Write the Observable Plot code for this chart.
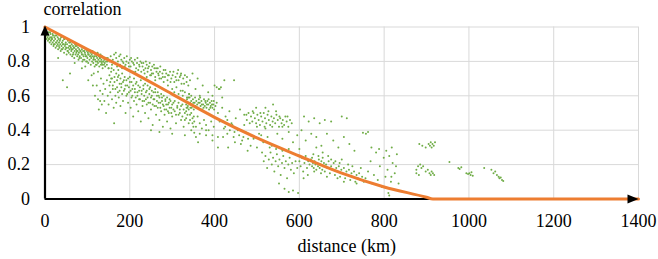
<!DOCTYPE html>
<html>
<head>
<meta charset="utf-8">
<script src="https://cdn.jsdelivr.net/npm/d3@7"></script>
<script src="https://cdn.jsdelivr.net/npm/@observablehq/plot@0.6"></script>
<style>
  html, body { margin: 0; padding: 0; background: white; }
</style>
</head>
<body>
<div id="chart"></div>
<script>
// ---- axis ticks ----
const xTicks = [0, 200, 400, 600, 800, 1000, 1200, 1400];
const yTicks = [0, 0.2, 0.4, 0.6, 0.8, 1];
const xTitle = "distance (km)";
const yTitle = "correlation";

// ---- fitted correlation curve ----
const curveKm   = [0, 100, 200, 300, 400, 500, 600, 700, 800, 900, 915, 1400];
const curveCorr = [1, 0.87, 0.745, 0.61, 0.475, 0.355, 0.25, 0.15, 0.07, 0.01, 0, 0];

const bandNear = [[2,0.97],[3,0.95],[4,0.93],[5,0.96],[6,0.94],[7,0.92],[8,0.95],[9,0.97],[10,0.93],[11,0.91],[12,0.94],[13,0.96],[14,0.92],[15,0.90],[16,0.94],[17,0.93],[18,0.91],[19,0.95],[20,0.89],[21,0.92],[22,0.94],[23,0.90],[24,0.93],[25,0.88],[26,0.91],[27,0.95],[28,0.89],[29,0.92],[30,0.90],[31,0.87],[32,0.93],[33,0.91],[34,0.88],[35,0.92],[36,0.90],[37,0.86],[38,0.94],[39,0.89],[40,0.91],[41,0.87],[42,0.92],[43,0.88],[44,0.90],[45,0.85],[46,0.93],[47,0.89],[48,0.87],[49,0.91],[50,0.88],[51,0.84],[52,0.90],[53,0.86],[54,0.92],[55,0.88],[56,0.85],[57,0.89],[58,0.87],[59,0.91],[60,0.84],[61,0.88],[62,0.86],[63,0.90],[64,0.83],[65,0.87],[66,0.89],[67,0.85],[68,0.88],[69,0.82],[70,0.86],[71,0.90],[72,0.84],[73,0.87],[74,0.85],[75,0.89],[76,0.83],[77,0.86],[78,0.88],[79,0.81],[80,0.85],[81,0.87],[82,0.83],[83,0.86],[84,0.89],[85,0.82],[86,0.85],[87,0.87],[88,0.80],[89,0.84],[90,0.86],[91,0.83],[92,0.88],[93,0.81],[94,0.85],[95,0.84],[96,0.87],[97,0.80],[98,0.83],[99,0.86],[100,0.82],[101,0.85],[102,0.79],[103,0.84],[104,0.86],[105,0.81],[106,0.83],[107,0.85],[108,0.78],[109,0.82],[110,0.84],[111,0.80],[112,0.86],[113,0.83],[114,0.79],[115,0.82],[116,0.85],[117,0.77],[118,0.81],[119,0.84],[120,0.80],[121,0.83],[122,0.78],[123,0.82],[124,0.85],[125,0.79],[126,0.81],[127,0.83],[128,0.77],[129,0.80],[130,0.82],[131,0.84],[132,0.78],[133,0.81],[134,0.79],[135,0.83],[136,0.76],[137,0.80],[138,0.82],[139,0.78],[140,0.81],[142,0.77],[144,0.80],[146,0.78],[148,0.82],[150,0.76],
[3,0.98],[6,0.96],[9,0.93],[12,0.97],[15,0.93],[18,0.96],[21,0.90],[24,0.95],[27,0.91],[30,0.94],[33,0.89],[36,0.93],[39,0.87],[42,0.90],[45,0.93],[48,0.90],[51,0.88],[54,0.86],[57,0.91],[60,0.89],[63,0.87],[66,0.84],[69,0.88],[72,0.89],[75,0.86],[78,0.84],[81,0.82],[84,0.86],[87,0.84],[90,0.81],[93,0.86],[96,0.83],[99,0.80],[102,0.84],[105,0.86],[108,0.83],[111,0.85],[114,0.81],[117,0.83],[120,0.78],[123,0.80],[126,0.84],[129,0.82],[132,0.80],[135,0.78],[138,0.80],[141,0.79],[144,0.82],[147,0.80],
[31,0.82],[59,0.73],[42,0.69],[52,0.65],[87,0.76],[102,0.69],[70,0.79],[115,0.73],[125,0.74],[95,0.77],[113,0.66],[118,0.60],[130,0.57],[110,0.72]];

const bandUpper = [[152,0.80],[155,0.83],[158,0.78],[160,0.81],[163,0.84],[165,0.79],[168,0.82],[170,0.77],[172,0.80],[175,0.83],[177,0.78],[180,0.81],[182,0.76],[185,0.79],[187,0.82],[190,0.78],[192,0.80],[195,0.75],[197,0.79],[200,0.81],[202,0.77],[205,0.80],[207,0.74],[210,0.78],[212,0.81],[215,0.76],[217,0.79],[220,0.75],[222,0.78],[225,0.80],[227,0.74],[230,0.77],[232,0.79],[235,0.73],[237,0.76],[240,0.78],[242,0.74],[245,0.77],[248,0.72],[250,0.75],[253,0.77],[255,0.73],[258,0.76],[260,0.71],[263,0.74],[266,0.76],[268,0.72],[271,0.74],[274,0.70],[277,0.73],[280,0.75],[283,0.71],[286,0.73],[289,0.69],[292,0.72],[295,0.74],[298,0.70],[301,0.72],[305,0.68],[308,0.71],[312,0.73],[315,0.69],[318,0.71],[322,0.67],[326,0.70],[330,0.72],[334,0.68],[338,0.66],[342,0.69],
[157,0.76],[162,0.79],[167,0.85],[173,0.75],[178,0.84],[183,0.80],[188,0.77],[193,0.83],[198,0.77],[203,0.82],[208,0.79],[213,0.74],[218,0.82],[223,0.77],[228,0.79],[233,0.75],[238,0.80],[243,0.76],[247,0.79],[252,0.73],[257,0.78],[262,0.76],[267,0.73],[272,0.77],[278,0.71],[284,0.75],[290,0.72],[296,0.68],[303,0.74],[310,0.69],[320,0.72],[328,0.67],
[300,0.64],[305,0.62],[310,0.65],[315,0.61],[320,0.63],[325,0.60],[330,0.62],[335,0.59],[340,0.61],[345,0.60],[290,0.66],[280,0.68],[270,0.70],[260,0.69],[250,0.72],[240,0.71]];

const denseBelow = [[150,0.76],[152,0.72],[154,0.68],[156,0.74],[158,0.70],[160,0.66],[162,0.75],[164,0.71],[166,0.64],[168,0.73],[170,0.69],[172,0.62],[174,0.72],[176,0.67],[178,0.70],[180,0.65],[182,0.73],[184,0.68],[186,0.63],[188,0.71],[190,0.66],[192,0.69],[194,0.61],[196,0.70],[198,0.65],[200,0.71],[202,0.63],[204,0.68],[206,0.60],[208,0.66],[210,0.70],[212,0.64],[214,0.59],[216,0.68],[218,0.62],[220,0.66],[222,0.58],[224,0.65],[226,0.69],[228,0.63],[230,0.57],[232,0.64],[234,0.60],[236,0.67],[238,0.58],[240,0.63],[242,0.66],[244,0.56],[246,0.61],[248,0.65],[250,0.59],[252,0.63],[254,0.55],[256,0.62],[258,0.58],[260,0.64],[262,0.54],[264,0.60],[266,0.62],[268,0.56],[270,0.59],[272,0.53],[274,0.61],[276,0.57],[278,0.55],[280,0.60],[282,0.52],[284,0.58],[286,0.55],[288,0.59],[290,0.51],[292,0.56],[294,0.53],[296,0.57],[298,0.50],[300,0.55],[303,0.52],[306,0.57],[309,0.49],[312,0.53],[315,0.56],[318,0.50],[321,0.54],[324,0.48],[327,0.52],[330,0.46],[333,0.51],[336,0.49],[339,0.52],[342,0.46],[345,0.50],[348,0.44],[351,0.48]];

const spreadLower = [[122,0.66],[125,0.58],[127,0.52],[130,0.63],[132,0.70],[134,0.55],[136,0.61],[138,0.67],[140,0.57],[142,0.64],[144,0.50],[146,0.69],[148,0.60],[150,0.55],[152,0.66],[154,0.62],[156,0.70],[158,0.58],[160,0.64],[162,0.53],[164,0.68],[166,0.60],[168,0.56],[170,0.65],[172,0.71],[174,0.59],[176,0.63],[178,0.54],[180,0.67],[182,0.61],[184,0.57],[186,0.69],[188,0.64],[190,0.50],[192,0.60],[194,0.66],[196,0.56],[198,0.62],[200,0.68],[202,0.53],[204,0.59],[206,0.64],[208,0.48],[210,0.57],[212,0.62],[214,0.67],[216,0.55],[218,0.60],[220,0.51],[222,0.63],[224,0.58],[226,0.45],[228,0.61],[230,0.54],[232,0.66],[234,0.57],[236,0.50],[238,0.62],[240,0.55],[242,0.59],[244,0.47],[246,0.64],[248,0.56],[250,0.52],[252,0.60],[254,0.43],[256,0.58],[258,0.54],[260,0.62],[262,0.49],[264,0.57],[266,0.53],[268,0.60],[270,0.46],[272,0.56],[274,0.51],[276,0.59],[278,0.42],[280,0.54],[282,0.49],[284,0.57],[286,0.52],[288,0.45],[290,0.55],[292,0.50],[294,0.58],[296,0.41],[298,0.53],[300,0.48],[303,0.56],[306,0.51],[309,0.44],[312,0.54],[315,0.49],[318,0.52],[321,0.46],[324,0.55],[327,0.42],[330,0.50],[333,0.47],[336,0.53],[339,0.44],[342,0.49],[345,0.40],[348,0.47],[352,0.45],[356,0.42],[360,0.48],[365,0.44],[370,0.41],[375,0.46],[380,0.43],[386,0.40],[392,0.45],[398,0.42],
[314,0.75],[325,0.63],[340,0.61],[355,0.64],[365,0.60],[372,0.66],[385,0.62],[395,0.60],[405,0.65],[412,0.64],[418,0.59],[360,0.70],[348,0.73],[400,0.66],[410,0.64],[415,0.65],[321,0.73],[335,0.71],[423,0.69],[446,0.69],
[352,0.385],[356,0.36],[361,0.33],[408,0.30],[380,0.37],[395,0.34],[250,0.40],[270,0.39],[300,0.38],[330,0.37],[163,0.44]];

const clusterMid = [[330,0.57],[333,0.55],[335,0.58],[337,0.54],[339,0.56],[341,0.59],[343,0.53],[345,0.57],[347,0.55],[349,0.58],[351,0.52],[353,0.56],[355,0.54],[357,0.57],[359,0.55],[361,0.53],[363,0.58],[365,0.56],[367,0.54],[369,0.57],[371,0.52],[373,0.55],[375,0.58],[377,0.54],[379,0.56],[381,0.53],[383,0.57],[385,0.55],[387,0.52],[389,0.56],[391,0.54],[393,0.57],[395,0.53],[397,0.55],[399,0.52],[334,0.53],[338,0.59],[342,0.56],[346,0.53],[350,0.56],[354,0.59],[358,0.53],[362,0.56],[366,0.59],[370,0.55],[374,0.53],[378,0.57],[382,0.55],[386,0.58],[390,0.53],[394,0.55],[398,0.57],[402,0.54],[405,0.56]];

const spreadMid = [[408,0.50],[412,0.45],[418,0.53],[422,0.41],[426,0.48],[430,0.38],[435,0.51],[440,0.44],[445,0.36],[450,0.47],[455,0.40],[460,0.52],[465,0.34],[470,0.43],[475,0.49],[480,0.38],[485,0.31],[420,0.36],[432,0.30],[448,0.33],[462,0.32],[478,0.28],[350,0.42],[365,0.38],[380,0.40],[395,0.37],[408,0.36],[492,0.35],[500,0.30],[510,0.37],[520,0.41],
[420,0.45],[425,0.42],[430,0.46],[436,0.40],[442,0.43],[447,0.39],[452,0.41],[458,0.37],[463,0.40],[468,0.36],[473,0.39],[479,0.35],[485,0.37],
[486,0.48],[489,0.45],[492,0.50],[495,0.47],[498,0.44],[501,0.49],[504,0.46],[507,0.43],[510,0.48],[513,0.45],[516,0.50],[519,0.47],[522,0.44],[525,0.49],[528,0.46],[531,0.43],[534,0.48],[537,0.45],[540,0.47],[543,0.44],[546,0.49],[549,0.46],[552,0.42],[555,0.47],[558,0.44],[561,0.46],[564,0.43],[567,0.48],[570,0.45],[574,0.42],[578,0.46],[582,0.44],[490,0.51],[500,0.42],[508,0.50],[518,0.42],[527,0.51],[536,0.42],[545,0.51],[553,0.48],[560,0.42],[572,0.48],[538,0.55],[498,0.53],[520,0.53],[470,0.49],[476,0.46],[480,0.50],[483,0.44],
[611,0.48],[622,0.45],[635,0.47],[648,0.44],[660,0.46],[675,0.45],[700,0.48],[712,0.47],[750,0.385],[757,0.38],[762,0.39],
[505,0.38],[515,0.33],[525,0.36],[535,0.31],[548,0.38],[560,0.35],[575,0.39],[585,0.33],[595,0.37],[605,0.40],[615,0.34],[628,0.38],[640,0.36],[652,0.31],[665,0.38],[680,0.34],[692,0.30],[705,0.36],[718,0.32],[730,0.28],[640,0.30],[655,0.27],[600,0.29]];

const clusterLow = [[512,0.27],[516,0.22],[520,0.25],[524,0.18],[528,0.23],[532,0.27],[535,0.20],[538,0.24],[541,0.16],[544,0.22],[547,0.26],[550,0.19],[553,0.23],[556,0.14],[559,0.21],[562,0.25],[565,0.18],[568,0.22],[571,0.12],[574,0.20],[577,0.24],[580,0.17],[583,0.21],[587,0.15],[591,0.22],[595,0.18],[530,0.30],[545,0.29],[560,0.28],[575,0.29],[565,0.06],[575,0.04],[585,0.05],[597,0.035],[552,0.09],
[600,0.22],[603,0.19],[606,0.24],[609,0.16],[612,0.21],[615,0.25],[618,0.18],[621,0.22],[624,0.20],[627,0.23],[630,0.19],[632,0.21],[634,0.18],[636,0.22],[638,0.20],[640,0.17],[642,0.21],[644,0.19],[646,0.23],[648,0.18],[650,0.20],[652,0.22],[654,0.17],[656,0.19],[658,0.21],[660,0.16],[663,0.20],[666,0.18],[669,0.22],[672,0.15],[675,0.19],[678,0.17],[681,0.21],[684,0.14],[687,0.18],[690,0.16],[693,0.19],[696,0.13],[699,0.17],[702,0.15],[705,0.18],[708,0.12],[711,0.16],[714,0.14],[717,0.17],[720,0.11],[723,0.15],[726,0.13],[729,0.16],[732,0.10],[735,0.14],[738,0.12],[741,0.15],[744,0.11],[748,0.13],[752,0.10],[756,0.12],[630,0.24],[635,0.16],[645,0.25],[655,0.24],[665,0.13],[675,0.23],[685,0.22],[695,0.21],[705,0.10],[715,0.20],[725,0.19],[735,0.09],[745,0.18],[620,0.14],[610,0.12],[633,0.26],[651,0.15],[668,0.25],[690,0.12],[700,0.23]];

const spreadFar = [[762,0.16],[768,0.22],[772,0.09],[776,0.14],[781,0.27],[785,0.11],[790,0.19],[795,0.07],[799,0.24],[803,0.13],[808,0.17],[812,0.02],[816,0.10],[820,0.21],[825,0.15],[830,0.26],[834,0.09],[770,0.30],[788,0.29],[805,0.28],[818,0.30],[828,0.19],[812,0.25],[817,0.13],[810,0.035]];

const clustersFar = [[883,0.32],[890,0.31],[898,0.30],[905,0.32],[908,0.31],[910,0.33],[912,0.30],[914,0.32],[917,0.31],[920,0.33],
[876,0.17],[880,0.19],[885,0.20],[888,0.18],[892,0.19],[898,0.16],[903,0.17],[907,0.15],[910,0.14],[912,0.16],[915,0.15],[918,0.14],[882,0.14],[876,0.15],
[954,0.215],[975,0.18],[978,0.175],[982,0.185],
[994,0.15],[998,0.145],[1001,0.15],[1004,0.14],[1006,0.155],[1009,0.135],
[1036,0.18],[1053,0.17],[1058,0.15],[1062,0.16],[1066,0.14],[1070,0.13],[1072,0.12],[1075,0.125],[1078,0.11],[1081,0.105]];

// ---- build tables ----
const points = [bandNear, bandUpper, denseBelow, spreadLower, clusterMid, spreadMid, clusterLow, spreadFar, clustersFar]
  .flat().map(([d, c]) => ({d, c}));
const curve = curveKm.map((d, i) => ({d, c: curveCorr[i]}));

// arrowhead symbols (tip at the anchor point)
const arrowUp = {draw(ctx) { ctx.moveTo(0, 0); ctx.lineTo(-4.5, 10); ctx.lineTo(4.5, 10); ctx.closePath(); }};
const arrowRight = {draw(ctx) { ctx.moveTo(0, 0); ctx.lineTo(-11, -4.5); ctx.lineTo(-11, 4.5); ctx.closePath(); }};

const green = "#70AD47";
const orange = "#ED7D31";
const grid = "#d9d9d9";
const serif = "Liberation Serif";

const chart = Plot.plot({
  width: 658,
  height: 259,
  marginLeft: 44.5,
  marginRight: 20,
  marginTop: 26.5,
  marginBottom: 60.5,
  x: {domain: [0, 1400]},
  y: {domain: [0, 1]},
  marks: [
    Plot.ruleX(xTicks.slice(1), {stroke: grid, strokeWidth: 1}),
    Plot.ruleY(yTicks.slice(1), {stroke: grid, strokeWidth: 1}),
    Plot.axisX(xTicks, {tickSize: 0, tickPadding: 15, tickFormat: d => String(d), label: null, fontSize: 18, fontFamily: serif, fill: "black"}),
    Plot.axisY(yTicks, {tickSize: 0, tickPadding: 15, tickFormat: d => String(d), label: null, fontSize: 18, fontFamily: serif, fill: "black"}),
    Plot.dot(points, {x: "d", y: "c", r: 1, fill: green, stroke: null}),
    Plot.ruleY([0], {x1: 0, x2: 1400, stroke: "black", strokeWidth: 2.2}),
    Plot.ruleX([0], {y1: 0, y2: 1, stroke: "black", strokeWidth: 2.2}),
    Plot.line(curve, {x: "d", y: "c", stroke: orange, strokeWidth: 3, curve: "monotone-x"}),
    Plot.dot([{d: 0, c: 1}], {x: "d", y: "c", symbol: arrowUp, r: 5, fill: "black", stroke: null, dy: -1.5}),
    Plot.dot([{d: 1400, c: 0}], {x: "d", y: "c", symbol: arrowRight, r: 5, fill: "black", stroke: null}),
    Plot.text([yTitle], {frameAnchor: "top-left", textAnchor: "start", lineAnchor: "middle", dx: -1.5, dy: -17.5, fontSize: 18, fontFamily: serif, fill: "black"}),
    Plot.text([xTitle], {frameAnchor: "bottom", textAnchor: "middle", lineAnchor: "middle", dx: 5, dy: 47.5, fontSize: 18, fontFamily: serif, fill: "black"})
  ]
});
document.getElementById("chart").appendChild(chart);
</script>
</body>
</html>
